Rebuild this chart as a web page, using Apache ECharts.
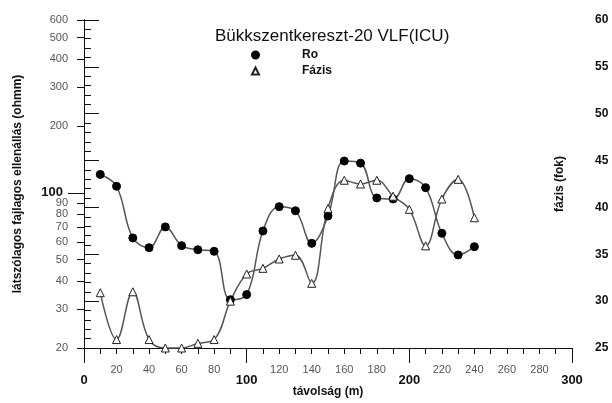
<!DOCTYPE html>
<html><head><meta charset="utf-8">
<script src="https://cdn.jsdelivr.net/npm/echarts@6/dist/echarts.min.js"></script>
<style>html,body{margin:0;padding:0;background:#fff}#c{width:612px;height:403px}</style>
</head><body><div id="c"></div>
<script>
const distance = [10,20,30,40,50,60,70,80,90,100,110,120,130,140,150,160,170,180,190,200,210,220,230,240];
const ro = [121,107,62.6,56.6,70.2,57.8,55.4,54.5,33.0,34.8,67.3,86.6,83,59.2,78.6,139,136,94.8,93.8,115.8,105.5,65.7,52.5,57.2];
const phase = [30.9,25.9,31.0,25.9,25.0,25.0,25.5,25.9,30.0,32.9,33.5,34.5,34.9,31.9,39.9,42.9,42.5,42.9,41.2,39.8,35.9,40.9,43.0,38.9];
const roTicks = [20,30,40,50,60,70,80,90,200,300,400,500,600];
const roMajorTicks = [100];
const xMinorLabels = [20,40,60,80,120,140,160,180,220,240,260,280];
const xMajorLabels = [0,100,200,300];

const FONT = 'Liberation Sans, Arial, sans-serif';
const chart = echarts.init(document.getElementById('c'), null, {renderer:'canvas'});
const lineCol = '#111';
chart.setOption({
  animation:false,
  backgroundColor:'#fff',
  textStyle:{fontFamily:FONT},
  title:{text:'Bükkszentkereszt-20 VLF(ICU)', left:210, top:23,
    textStyle:{fontFamily:FONT, fontSize:17, fontWeight:'normal', color:'#111'}},
  legend:{orient:'vertical', left:246, top:44, itemWidth:7, itemHeight:7, itemGap:4,
    textStyle:{fontFamily:FONT, fontSize:12, fontWeight:'bold', color:'#111', padding:[0,0,0,38]},
    data:[{name:'Ro', icon:'circle'},{name:'Fázis', icon:'triangle'}]},
  grid:{left:84, right:40, top:20, bottom:55, containLabel:false, outerBoundsMode:'none'},
  xAxis:[
    {type:'value', min:0, max:300, interval:10, position:'bottom', offset:0,
     axisLine:{lineStyle:{color:lineCol, width:1}}, splitLine:{show:false},
     axisTick:{inside:false, length:6, lineStyle:{color:lineCol}},
     axisLabel:{inside:false, customValues:xMinorLabels, margin:16, fontFamily:FONT, fontSize:11, color:'#555'}},
    {type:'value', min:0, max:300, interval:100, position:'bottom', offset:0,
     axisLine:{lineStyle:{color:lineCol, width:1}}, splitLine:{show:false},
     axisTick:{inside:false, length:15, lineStyle:{color:lineCol}},
     axisLabel:{inside:false, margin:26, fontFamily:FONT, fontSize:13, fontWeight:'bold', color:'#111'},
     name:'távolság (m)', nameLocation:'middle', nameGap:38, nameMoveOverlap:false,
     nameTextStyle:{fontFamily:FONT, fontSize:12, fontWeight:'bold', color:'#111'}}
  ],
  yAxis:[
    {type:'log', logBase:10, min:20, max:600, position:'left', offset:0,
     axisLine:{show:true, lineStyle:{color:lineCol}}, splitLine:{show:false},
     axisTick:{inside:false, customValues:roTicks, length:7, lineStyle:{color:lineCol}},
     axisLabel:{inside:false, customValues:roTicks, margin:16, fontFamily:FONT, fontSize:11, color:'#555'},
     name:'látszólagos fajlagos ellenállás (ohmm)', nameLocation:'middle', nameGap:60, nameRotate:90,
     nameTextStyle:{fontFamily:FONT, fontSize:12, fontWeight:'bold', color:'#111'}},
    {type:'value', min:25, max:60, interval:5, position:'right', offset:0,
     axisLine:{show:true, lineStyle:{color:lineCol}}, splitLine:{show:false},
     axisTick:{inside:false, length:15, lineStyle:{color:lineCol}},
     minorTick:{show:true, splitNumber:5, length:7, lineStyle:{color:lineCol}},
     minorSplitLine:{show:false},
     axisLabel:{inside:false, margin:23, fontFamily:FONT, fontSize:12, fontWeight:'bold', color:'#111'},
     name:'fázis (fok)', nameLocation:'middle', nameGap:-18, nameRotate:90, nameMoveOverlap:false,
     nameTextStyle:{fontFamily:FONT, fontSize:12, fontWeight:'bold', color:'#111'}},
    {type:'log', logBase:10, min:20, max:600, position:'left', offset:0,
     axisLine:{show:false}, splitLine:{show:false},
     axisTick:{inside:false, customValues:roMajorTicks, length:16, lineStyle:{color:lineCol}},
     axisLabel:{inside:false, customValues:roMajorTicks, margin:21, fontFamily:FONT, fontSize:13, fontWeight:'bold', color:'#111'}}
  ],
  series:[
    {name:'Ro', type:'line', xAxisIndex:0, yAxisIndex:0, smooth:0.4,
     data:distance.map((d,i)=>[d, ro[i]]),
     symbol:'circle', symbolSize:8, showAllSymbol:true,
     lineStyle:{color:'#555', width:1.5},
     itemStyle:{color:'#000', borderColor:'#000', borderWidth:1}},
    {name:'Fázis', type:'line', xAxisIndex:0, yAxisIndex:1, smooth:0.4,
     data:distance.map((d,i)=>[d, phase[i]]),
     symbol:'triangle', symbolSize:8, showAllSymbol:true,
     lineStyle:{color:'#555', width:1.5},
     itemStyle:{color:'#fff', borderColor:'#222', borderWidth:1}}
  ]
});
</script></body></html>
